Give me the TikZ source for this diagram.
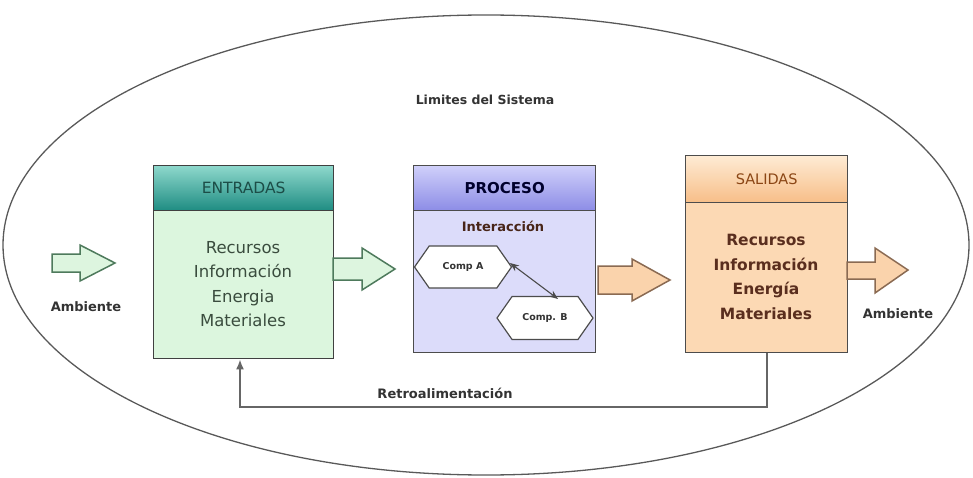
\documentclass[tikz,border=0pt]{standalone}
\usepackage{fontspec}
\setmainfont{DejaVu Sans}
\usetikzlibrary{shapes.symbols,arrows.meta}
\definecolor{entbody}{HTML}{DCF6DE}
\definecolor{enttop}{HTML}{8ED8CC}
\definecolor{entbot}{HTML}{1E8C82}
\definecolor{probody}{HTML}{DCDCFA}
\definecolor{protop}{HTML}{D0D0FA}
\definecolor{probot}{HTML}{8C8CE6}
\definecolor{salbody}{HTML}{FCD9B4}
\definecolor{saltop}{HTML}{FEEBD4}
\definecolor{salbot}{HTML}{F7BE88}
\definecolor{garrow}{HTML}{DDF5DF}
\definecolor{gedge}{HTML}{4E7A5C}
\definecolor{oarrow}{HTML}{FAD3AC}
\definecolor{oedge}{HTML}{8A6A52}
\definecolor{txtgreen}{HTML}{3A4C3E}
\definecolor{txtbrown}{HTML}{5A2E1E}
\definecolor{txtdark}{HTML}{333333}
\tikzset{
  boxbody/.style={draw=#1, line width=1.4pt, anchor=north west, inner sep=0pt},
  boxhead/.style={draw=#1, line width=1.4pt, anchor=north west, inner sep=0pt},
  comp/.style={signal, signal to=east and west, signal pointer angle=110, draw=black!70, fill=white, line width=1.2pt, inner sep=0pt, font=\bfseries\fontsize{9.5}{11}\selectfont, text=txtdark},
  garr/.style={fill=garrow, draw=gedge, line width=1.5pt, line join=miter},
  oarr/.style={fill=oarrow, draw=oedge, line width=1.5pt, line join=miter},
  lbl/.style={font=\bfseries\fontsize{13}{15}\selectfont, text=txtdark}
}
\begin{document}
\begin{tikzpicture}[x=1pt,y=-1pt]
\useasboundingbox (0,0) rectangle (973,478);
% system boundary
\draw[draw=black!65, line width=1.3pt] (486,245) ellipse [x radius=483pt, y radius=230pt];
\node[lbl, font=\bfseries\fontsize{12.5}{14}\selectfont] (lim) at (485,100) {Limites del Sistema};

% ENTRADAS
\node[boxbody=black!75, fill=entbody, minimum width=180pt, minimum height=193pt] (entb) at (153,165) {};
\node[boxhead=black!75, top color=enttop, bottom color=entbot, minimum width=180pt, minimum height=45pt, text=txtgreen!60!teal!80!black, font=\fontsize{15.5}{18}\selectfont] (enth) at (153,165) {ENTRADAS};
\node[align=center, text=txtgreen, font=\fontsize{16.5}{24.5}\selectfont] (entt) at (243,284) {Recursos\\Información\\Energia\\Materiales};

% PROCESO
\node[boxbody=black!70, fill=probody, minimum width=182pt, minimum height=187pt] (prob) at (413,165) {};
\node[boxhead=black!70, top color=protop, bottom color=probot, minimum width=182pt, minimum height=45pt, text=black!30!blue!25!black, font=\bfseries\fontsize{15}{18}\selectfont] (proh) at (413,165) {PROCESO};
\node[font=\bfseries\fontsize{13}{15}\selectfont, text=txtbrown!80!black] (inter) at (503,226) {Interacción};
\node[comp, minimum width=97pt, minimum height=42pt] (ca) at (463,267) {Comp A};
\node[comp, minimum width=96pt, minimum height=43pt] (cb) at (545,318) {Comp. B};
\coordinate (caend) at (510,263);
\coordinate (cbend) at (558,299);
\draw[{Stealth[length=9pt,width=7pt]}-{Stealth[length=9pt,width=7pt]}, draw=black!70, line width=1.1pt] (caend) -- (cbend);

% SALIDAS
\node[boxbody=black!70, fill=salbody, minimum width=162pt, minimum height=197pt] (salb) at (685,155) {};
\node[boxhead=black!70, top color=saltop, bottom color=salbot, minimum width=162pt, minimum height=47pt, text=txtbrown!70!orange, font=\fontsize{14.5}{18}\selectfont] (salh) at (685,155) {SALIDAS};
\node[align=center, text=txtbrown, font=\bfseries\fontsize{15.5}{24.5}\selectfont] (salt) at (766,277) {Recursos\\Información\\Energía\\Materiales};

% block arrows
\draw[garr] (52,254) -- (80,254) -- (80,245) -- (115,263) -- (80,281) -- (80,272) -- (52,272) -- cycle;
\node[lbl] (amb1) at (86,307) {Ambiente};
\draw[garr] (333,258) -- (362,258) -- (362,248) -- (395,269) -- (362,290) -- (362,280) -- (333,280) -- cycle;
\draw[oarr] (598,266) -- (632,266) -- (632,259) -- (670,280) -- (632,301) -- (632,294) -- (598,294) -- cycle;
\draw[oarr] (847,262) -- (875,262) -- (875,248) -- (908,270) -- (875,293) -- (875,279) -- (847,279) -- cycle;
\node[lbl] (amb2) at (898,314) {Ambiente};

% feedback
\coordinate (fbr) at (767,407);
\coordinate (fbl) at (240,407);
\draw[draw=black!60, line width=1.8pt, -{Latex[length=10pt,width=8pt]}] (salb.south -| fbr) -- (fbr) -- (fbl) -- (entb.south -| fbl);
\node[lbl, font=\bfseries\fontsize{13}{15}\selectfont] (retro) at (445,393) {Retroalimentación};
\end{tikzpicture}
\end{document}
